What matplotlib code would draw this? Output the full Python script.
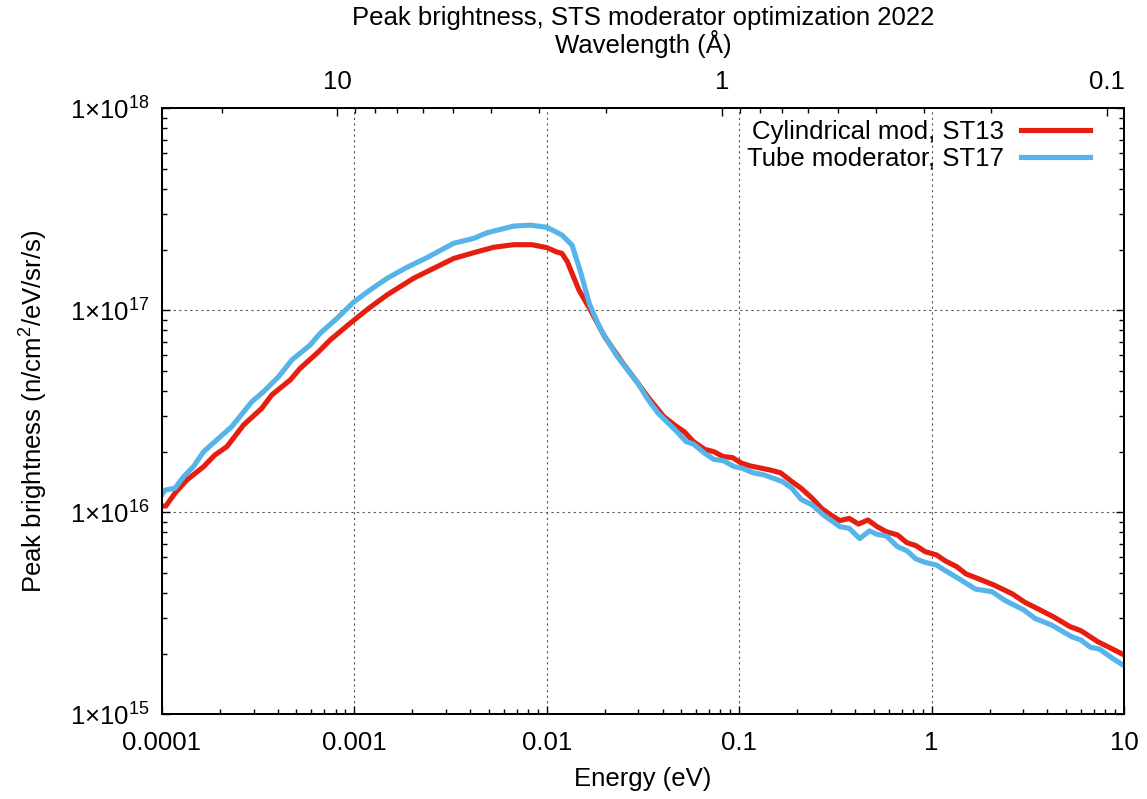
import matplotlib
matplotlib.use('Agg')
import matplotlib.pyplot as plt
import numpy as np
from matplotlib.ticker import FixedLocator, FuncFormatter, NullFormatter, LogLocator

plt.rcParams['font.family'] = ['Liberation Sans', 'DejaVu Sans']
plt.rcParams['mathtext.fontset'] = 'custom'
plt.rcParams['mathtext.rm'] = 'Liberation Sans'
plt.rcParams['mathtext.it'] = 'Liberation Sans:italic'
plt.rcParams['mathtext.default'] = 'regular'

# ---- data: Cylindrical mod, ST13 ----
energy_st13 = [1.0e-4, 1.05e-4, 1.17e-4, 1.35e-4, 1.65e-4, 1.89e-4, 2.18e-4, 2.66e-4, 3.31e-4, 3.73e-4,
               4.65e-4, 5.24e-4, 6.53e-4, 7.50e-4, 9.53e-4, 1.19e-3, 1.48e-3, 2.03e-3, 2.69e-3, 3.29e-3,
               4.17e-3, 5.30e-3, 6.73e-3, 8.39e-3, 1.005e-2, 1.12e-2, 1.20e-2, 1.28e-2, 1.47e-2, 1.67e-2,
               2.00e-2, 2.49e-2, 2.98e-2, 3.40e-2, 4.06e-2, 4.74e-2, 5.19e-2, 5.79e-2, 6.62e-2, 7.40e-2,
               8.26e-2, 9.23e-2, 0.103, 0.115, 0.144, 0.164, 0.188, 0.210, 0.240, 0.268,
               0.299, 0.334, 0.373, 0.417, 0.467, 0.521, 0.582, 0.665, 0.743, 0.830,
               0.927, 1.06, 1.18, 1.35, 1.51, 1.73, 2.11, 2.63, 3.07, 3.59,
               4.29, 5.24, 5.97, 7.29, 8.71, 10.0]
bright_st13 = [1.074e16, 1.074e16, 1.242e16, 1.445e16, 1.683e16, 1.923e16, 2.113e16, 2.704e16, 3.273e16, 3.811e16,
               4.519e16, 5.164e16, 6.237e16, 7.129e16, 8.630e16, 1.023e17, 1.191e17, 1.439e17, 1.644e17, 1.807e17,
               1.928e17, 2.051e17, 2.113e17, 2.113e17, 2.042e17, 1.950e17, 1.914e17, 1.742e17, 1.262e17, 1.023e17,
               7.413e16, 5.470e16, 4.355e16, 3.664e16, 2.979e16, 2.655e16, 2.506e16, 2.239e16, 2.051e16, 1.995e16,
               1.888e16, 1.866e16, 1.750e16, 1.694e16, 1.622e16, 1.570e16, 1.419e16, 1.315e16, 1.172e16, 1.047e16,
               9.705e15, 9.099e15, 9.333e15, 8.750e15, 9.162e15, 8.492e15, 8.017e15, 7.727e15, 7.079e15, 6.839e15,
               6.383e15, 6.152e15, 5.741e15, 5.383e15, 4.955e15, 4.710e15, 4.365e15, 3.945e15, 3.573e15, 3.319e15,
               3.041e15, 2.716e15, 2.594e15, 2.291e15, 2.104e15, 1.968e15]

# ---- data: Tube moderator, ST17 ----
energy_st17 = [1.0e-4, 1.04e-4, 1.17e-4, 1.30e-4, 1.46e-4, 1.65e-4, 1.93e-4, 2.31e-4, 2.94e-4, 3.38e-4,
               4.05e-4, 4.74e-4, 5.90e-4, 6.65e-4, 8.13e-4, 1.00e-3, 1.21e-3, 1.48e-3, 1.88e-3, 2.39e-3,
               3.29e-3, 4.17e-3, 4.90e-3, 6.73e-3, 8.22e-3, 1.005e-2, 1.20e-2, 1.355e-2, 1.50e-2, 1.67e-2,
               1.91e-2, 2.33e-2, 2.98e-2, 3.33e-2, 3.80e-2, 4.65e-2, 5.30e-2, 5.79e-2, 6.62e-2, 7.40e-2,
               8.26e-2, 9.44e-2, 0.103, 0.118, 0.135, 0.168, 0.188, 0.210, 0.240, 0.274,
               0.334, 0.373, 0.423, 0.476, 0.521, 0.582, 0.665, 0.743, 0.830, 0.927,
               1.06, 1.18, 1.35, 1.69, 2.06, 2.41, 3.01, 3.44, 4.20, 5.35,
               5.97, 6.68, 7.46, 8.71, 10.0]
bright_st17 = [1.219e16, 1.288e16, 1.315e16, 1.503e16, 1.683e16, 1.995e16, 2.280e16, 2.655e16, 3.532e16, 3.954e16,
               4.699e16, 5.675e16, 6.730e16, 7.691e16, 9.120e16, 1.104e17, 1.262e17, 1.439e17, 1.633e17, 1.824e17,
               2.148e17, 2.270e17, 2.421e17, 2.612e17, 2.642e17, 2.576e17, 2.360e17, 2.104e17, 1.549e17, 1.072e17,
               8.000e16, 5.902e16, 4.355e16, 3.664e16, 3.090e16, 2.559e16, 2.239e16, 2.178e16, 1.959e16, 1.828e16,
               1.803e16, 1.683e16, 1.656e16, 1.570e16, 1.531e16, 1.419e16, 1.315e16, 1.159e16, 1.086e16, 9.705e15,
               8.492e15, 8.337e15, 7.413e15, 8.091e15, 7.780e15, 7.638e15, 6.761e15, 6.457e15, 5.875e15, 5.649e15,
               5.483e15, 5.140e15, 4.764e15, 4.169e15, 4.046e15, 3.656e15, 3.289e15, 2.985e15, 2.767e15, 2.421e15,
               2.333e15, 2.148e15, 2.104e15, 1.892e15, 1.742e15]

labels = ['Cylindrical mod, ST13', 'Tube moderator, ST17']
colors = ['#e51e10', '#56b4e9']

# wavelength axis (top) ticks, in Angstrom
wl_major = [10, 1, 0.1]
wl_major_labels = ['10', '1', '0.1']
wl_minor = [20, 9, 8, 7, 6, 5, 4, 3, 2, 0.9, 0.8, 0.7, 0.6, 0.5, 0.4, 0.3, 0.2]
E_PER_INV_A2 = 0.08181  # E[eV] = 0.08181 / lambda[A]^2

FS = 18.5

fig = plt.figure(figsize=(11.47, 7.99), dpi=100)
ax = fig.add_axes([0.141, 0.106, 0.839, 0.7584])

ax.plot(energy_st13, bright_st13, color=colors[0], lw=3.7, label=labels[0], zorder=3)
ax.plot(energy_st17, bright_st17, color=colors[1], lw=3.7, label=labels[1], zorder=3)

ax.set_xscale('log')
ax.set_yscale('log')
ax.set_xlim(1e-4, 10)
ax.set_ylim(1e15, 1e18)

ax.xaxis.set_major_locator(FixedLocator([1e-4, 1e-3, 1e-2, 1e-1, 1, 10]))
ax.xaxis.set_major_formatter(FuncFormatter(lambda v, p: {1e-4: '0.0001', 1e-3: '0.001', 1e-2: '0.01',
                                                          1e-1: '0.1', 1: '1', 10: '10'}.get(v, '')))
ax.xaxis.set_minor_locator(LogLocator(base=10, subs=np.arange(2, 10), numticks=50))
ax.xaxis.set_minor_formatter(NullFormatter())
ax.yaxis.set_major_locator(FixedLocator([1e15, 1e16, 1e17, 1e18]))
ax.yaxis.set_major_formatter(FuncFormatter(lambda v, p: '1×10$^{%d}$' % int(round(np.log10(v)))))
ax.yaxis.set_minor_locator(LogLocator(base=10, subs=np.arange(2, 10), numticks=50))
ax.yaxis.set_minor_formatter(NullFormatter())

ax.tick_params(which='both', direction='in', top=False, right=True, labelsize=FS, width=1.0)
ax.tick_params(which='major', length=6)
ax.tick_params(which='minor', length=3.5)
ax.tick_params(axis='x', which='major', pad=12)
ax.tick_params(axis='y', which='major', pad=9)

ax.grid(True, which='major', linestyle=(0, (2, 3)), color='#555555', linewidth=0.8)

for s in ax.spines.values():
    s.set_linewidth(1.4)

ax2 = ax.twiny()
ax2.set_xscale('log')
ax2.set_xlim(ax.get_xlim())
ax2.xaxis.set_major_locator(FixedLocator([E_PER_INV_A2 / w ** 2 for w in wl_major]))
ax2.xaxis.set_major_formatter(FuncFormatter(
    lambda v, p: wl_major_labels[p] if p is not None and p < len(wl_major_labels) else ''))
ax2.xaxis.set_minor_locator(FixedLocator([E_PER_INV_A2 / w ** 2 for w in wl_minor]))
ax2.xaxis.set_minor_formatter(NullFormatter())
ax2.tick_params(which='both', direction='in', labelsize=FS, width=1.0)
ax2.tick_params(which='major', length=6, pad=10.5)
ax2.tick_params(which='minor', length=3.5)
for s in ax2.spines.values():
    s.set_linewidth(1.4)

ax.set_xlabel('Energy (eV)', fontsize=FS, labelpad=9)
ax.set_ylabel('Peak brightness (n/cm$^2$/eV/sr/s)', fontsize=FS, labelpad=14)

fig.text(0.5605, 0.977, 'Peak brightness, STS moderator optimization 2022', fontsize=FS,
         ha='center', va='center')
fig.text(0.5605, 0.945, 'Wavelength (Å)', fontsize=FS, ha='center', va='center')

leg = ax.legend(loc='upper right', bbox_to_anchor=(0.9647, 0.981), markerfirst=False, frameon=False,
                fontsize=FS, handlelength=2.7, handletextpad=0.65, labelspacing=0.12,
                borderpad=0.0, borderaxespad=0.0)

fig.savefig('out.png', dpi=100)
